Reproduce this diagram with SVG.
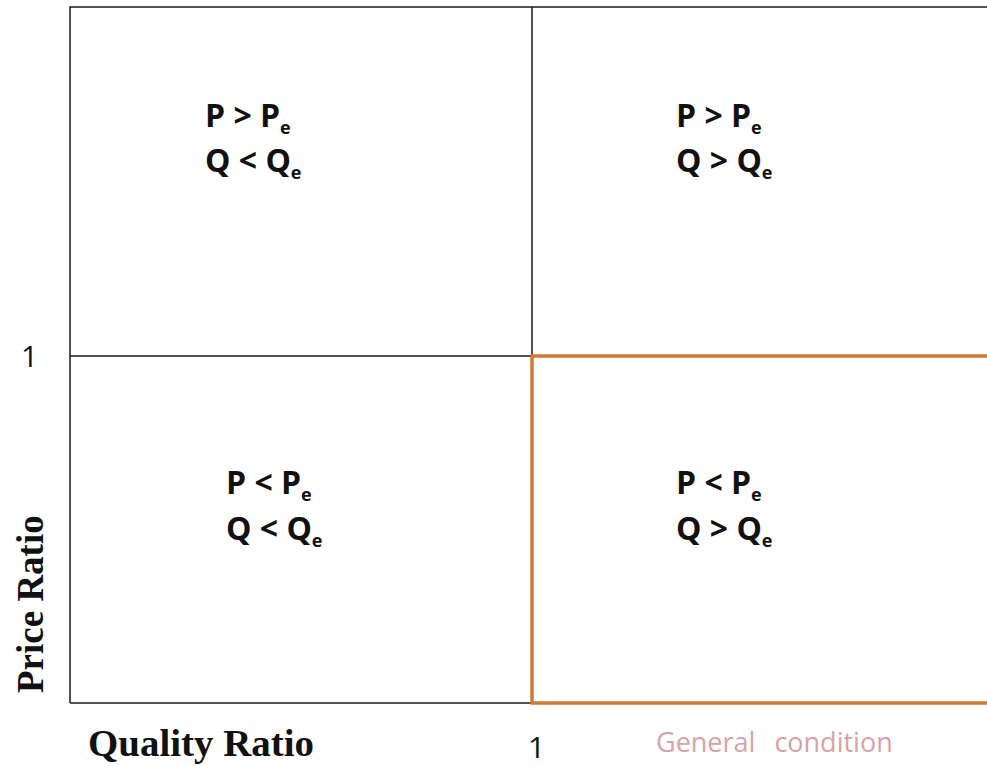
<svg xmlns="http://www.w3.org/2000/svg" width="987" height="766" viewBox="0 0 987 766">
<style>
.grid{fill:none;stroke:#1a1a1a;stroke-width:1.5}
.cond{font-family:"Open Sans","Liberation Sans",sans-serif;font-weight:bold;font-size:32px;fill:#111}
.sub{font-size:18px}
.axis{font-family:"Liberation Serif",serif;font-weight:bold;font-size:37px;fill:#111}
.tick{font-family:"Open Sans","Liberation Sans",sans-serif;font-size:30px;fill:#111}
</style>
<rect width="987" height="766" fill="#fff"/>
<g id="grid">
<path class="grid" d="M70 703 V7 H987 M532 7 V703 M70 356 H987 M70 703 H532"/>
</g>
<g id="highlight">
<rect x="532" y="356" width="470" height="347" fill="none" stroke="#D07A35" stroke-width="3.5"/>
</g>
<g id="q-top-left">
<text class="cond" x="205" y="127">P &gt; P<tspan class="sub" dy="7">e</tspan></text>
<text class="cond" x="205" y="172">Q &lt; Q<tspan class="sub" dy="7">e</tspan></text>
</g>
<g id="q-top-right">
<text class="cond" x="676" y="127">P &gt; P<tspan class="sub" dy="7">e</tspan></text>
<text class="cond" x="676" y="172">Q &gt; Q<tspan class="sub" dy="7">e</tspan></text>
</g>
<g id="q-bottom-left">
<text class="cond" x="226" y="494">P &lt; P<tspan class="sub" dy="7">e</tspan></text>
<text class="cond" x="226" y="540">Q &lt; Q<tspan class="sub" dy="7">e</tspan></text>
</g>
<g id="q-bottom-right">
<text class="cond" x="676" y="494">P &lt; P<tspan class="sub" dy="7">e</tspan></text>
<text class="cond" x="676" y="540">Q &gt; Q<tspan class="sub" dy="7">e</tspan></text>
</g>
<g id="labels">
<text class="tick" x="21" y="367">1</text>
<text class="tick" x="528" y="758">1</text>
<text class="axis" x="88" y="756" textLength="226" lengthAdjust="spacingAndGlyphs">Quality Ratio</text>
<text class="axis" transform="translate(43 693) rotate(-90)">Price Ratio</text>
<text x="656" y="752" font-family="'Open Sans','Liberation Sans',sans-serif" font-size="27" word-spacing="12" fill="#D9A1A8">General condition</text>
</g>
</svg>
